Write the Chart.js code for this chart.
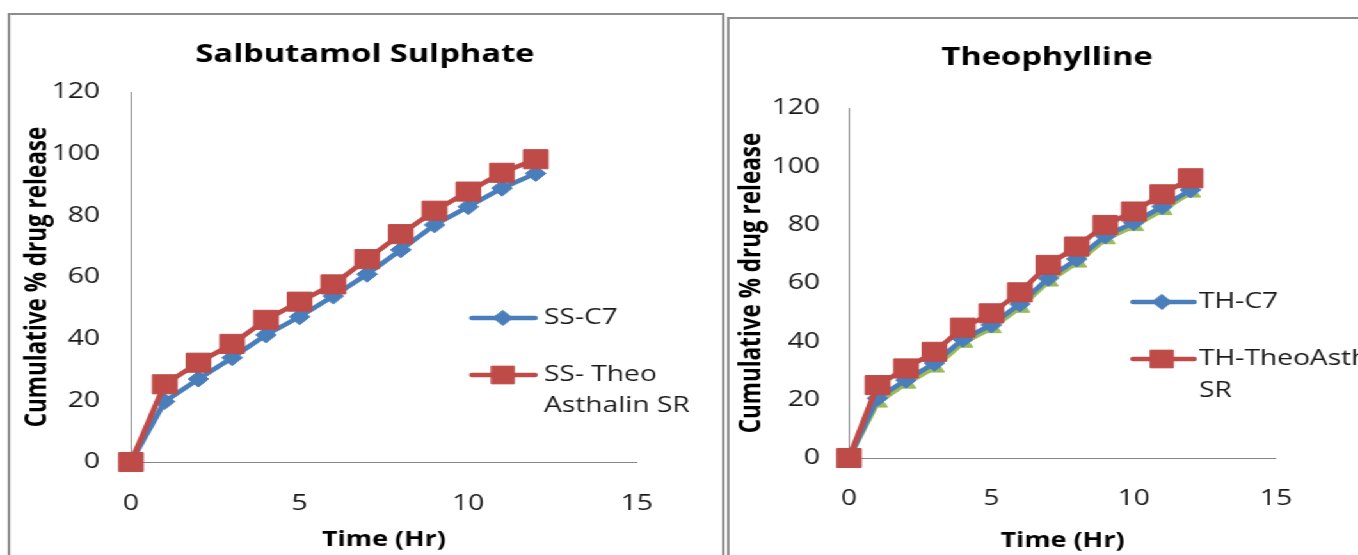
<!DOCTYPE html>
<html><head><meta charset="utf-8">
<script src="https://cdn.jsdelivr.net/npm/chart.js@4.4.1/dist/chart.umd.min.js"></script>
<style>
html,body{margin:0;padding:0;background:#fff;overflow:hidden;width:1358px;height:555px;}
#stage{position:absolute;left:0;top:0;height:555px;transform-origin:0 0;}
.box{position:absolute;border:2px solid #8c8c8c;box-sizing:border-box;}
canvas{position:absolute;top:0;}
</style></head><body>
<div id="stage">
  <div class="box" id="boxL"></div>
  <div class="box" id="boxR"></div>
  <canvas id="cL"></canvas>
  <canvas id="cR"></canvas>
</div>
<script>
// ---- data ----
const timeHr   = [0, 1, 2, 3, 4, 5, 6, 7, 8, 9, 10, 11, 12];
const ssC7     = [0, 19.6, 26.9, 33.8, 41.2, 47.1, 53.8, 60.9, 68.8, 76.9, 82.8, 88.8, 93.6];
const ssTheo   = [0, 25.2, 32.2, 38.3, 46.1, 52.0, 57.6, 65.8, 73.9, 81.5, 87.7, 93.8, 98.2];
const thC7     = [0, 20.5, 26.7, 32.5, 40.7, 45.6, 52.8, 61.6, 68.2, 76.1, 80.7, 86.2, 91.9];
const thTheo   = [0, 25.0, 30.7, 36.4, 44.7, 49.6, 56.8, 66.2, 72.5, 79.9, 84.5, 90.4, 95.9];
const thThird  = [0, 19.0, 25.5, 31.0, 39.5, 44.5, 51.5, 60.5, 67.0, 75.0, 79.5, 85.0, 91.0];
const xTicks   = [0, 5, 10, 15];
const yTicks   = [0, 20, 40, 60, 80, 100, 120];
const ssLabels = ['SS-C7', 'SS- Theo\nAsthalin SR'];
const thLabels = ['TH-C7', 'TH-TheoAsth\nSR'];
const titles   = ['Salbutamol Sulphate', 'Theophylline'];
const yTitle   = 'Cumulative % drug release';
const xTitle   = 'Time (Hr)';

// ---- layout helpers ----
const S = 1.28;              // horizontal stretch of the reference
const u = v => v / S;
const FONT = '"Open Sans", "Liberation Sans", sans-serif';
const BLUE = '#4A7EBB', RED = '#BE4B48', GREEN = '#9BBB59', AXIS = '#868686', TXT = '#1a1a1a';

const stage = document.getElementById('stage');
stage.style.width = u(1358) + 'px';
stage.style.transform = 'scaleX(' + S + ')';
const boxL = document.getElementById('boxL');
Object.assign(boxL.style, {left: u(8) + 'px', top: '13px', width: u(724 - 8) + 'px', height: '600px'});
const boxR = document.getElementById('boxR');
Object.assign(boxR.style, {left: u(727) + 'px', top: '17px', width: u(700) + 'px', height: '600px'});

function setupCanvas(id, left, width) {
  const c = document.getElementById(id);
  c.width = Math.round(u(width)); c.height = 555;
  c.style.left = u(left) + 'px';
  c.style.width = Math.round(u(width)) + 'px'; c.style.height = '555px';
  return c;
}
const cL = setupCanvas('cL', 0, 722);
const cR = setupCanvas('cR', 727, 631);

function drawMarker(ctx, style, r, x, y) {
  ctx.beginPath();
  if (style === 'rect') {
    const h = r * Math.SQRT1_2;
    ctx.rect(x - h, y - h, 2 * h, 2 * h);
  } else if (style === 'rectRot') {
    ctx.moveTo(x, y - r); ctx.lineTo(x + r, y); ctx.lineTo(x, y + r); ctx.lineTo(x - r, y); ctx.closePath();
  } else {
    ctx.moveTo(x, y - r); ctx.lineTo(x + 0.866 * r, y + 0.5 * r); ctx.lineTo(x - 0.866 * r, y + 0.5 * r); ctx.closePath();
  }
  ctx.fill(); ctx.stroke();
}

const decor = {
  id: 'decor',
  afterDraw(chart, args, o) {
    const ctx = chart.ctx;
    ctx.save();
    ctx.fillStyle = '#000';
    ctx.font = 'bold 25.5px ' + FONT;
    ctx.textAlign = 'center'; ctx.textBaseline = 'middle';
    ctx.fillText(o.title, o.titleX, o.titleY);
    ctx.font = '22px ' + FONT;
    ctx.textAlign = 'left';
    o.items.forEach(it => {
      const ds = chart.data.datasets[it.ds];
      ctx.strokeStyle = ds.borderColor; ctx.lineWidth = ds.borderWidth; ctx.lineCap = 'round';
      ctx.beginPath(); ctx.moveTo(o.lineX1, it.y); ctx.lineTo(o.lineX2, it.y); ctx.stroke();
      ctx.fillStyle = ds.pointBackgroundColor; ctx.strokeStyle = ds.pointBorderColor; ctx.lineWidth = 1;
      drawMarker(ctx, ds.pointStyle, it.r, o.markerX, it.y);
      ctx.fillStyle = TXT;
      ds.label.split('\n').forEach((t, i) => ctx.fillText(t, o.textX, it.y + i * o.lineGap));
    });
    ctx.restore();
  }
};

function series(label, values, color, style, radius, order) {
  return {
    label, order,
    data: timeHr.map((t, i) => ({x: t, y: values[i]})),
    borderColor: color, backgroundColor: color, borderWidth: 4.5,
    pointStyle: style, pointRadius: radius, pointHoverRadius: radius,
    pointBackgroundColor: color, pointBorderColor: color, pointBorderWidth: 1,
    tension: 0, clip: false, fill: false
  };
}

function makeChart(canvas, datasets, g) {
  return new Chart(canvas, {
    type: 'line',
    data: {datasets},
    plugins: [decor],
    options: {
      responsive: false, animation: false, events: [],
      layout: {padding: {left: 0, top: g.top, right: g.padRight, bottom: 0}},
      plugins: {
        legend: {display: false}, tooltip: {enabled: false}, title: {display: false},
        decor: g.decor
      },
      scales: {
        x: {
          type: 'linear', min: 0, max: 15,
          afterBuildTicks: s => { s.ticks = xTicks.map(v => ({value: v})); },
          afterFit: s => { s.height = g.xHeight; },
          grid: {display: false, drawTicks: false, tickLength: 0},
          border: {display: true, color: AXIS, width: 1},
          ticks: {color: TXT, font: {family: FONT, size: 22}, padding: g.xTickPad, maxRotation: 0},
          title: {display: true, text: xTitle, color: '#000', font: {family: FONT, size: 21, weight: 'bold'},
                  padding: {top: 0, bottom: g.xTitlePad}}
        },
        y: {
          type: 'linear', min: 0, max: 120,
          afterBuildTicks: s => { s.ticks = yTicks.map(v => ({value: v})); },
          afterFit: s => { s.width = g.yWidth; },
          grid: {display: false, drawTicks: false, tickLength: 0},
          border: {display: true, color: AXIS, width: 1},
          ticks: {color: TXT, font: {family: FONT, size: 22}, padding: g.yTickPad},
          title: {display: true, text: yTitle, color: '#000', font: {family: FONT, size: 22.5, weight: 'bold'},
                  padding: {top: g.yTitlePad, bottom: 0}}
        }
      }
    }
  });
}

makeChart(cL, [
  series(ssLabels[0], ssC7, BLUE, 'rectRot', 8, 1),
  series(ssLabels[1], ssTheo, RED, 'rect', 13.5, 0)
], {
  top: 92, padRight: u(722 - 637), xHeight: 555 - 462, yWidth: u(131),
  xTickPad: 28.8, xTitlePad: 2.4, yTickPad: u(31), yTitlePad: u(38) - 13.5,
  decor: {
    title: titles[0], titleX: u(365), titleY: 55,
    lineX1: u(472), lineX2: u(535), markerX: u(503), textX: u(544), lineGap: 31,
    items: [{ds: 0, y: 318, r: 7.5}, {ds: 1, y: 375, r: 12.5}]
  }
});

makeChart(cR, [
  series(thLabels[0], thC7, BLUE, 'rectRot', 8, 1),
  series(thLabels[1], thTheo, RED, 'rect', 13.5, 0),
  series('', thThird, GREEN, 'triangle', 9, 2)
], {
  top: 108, padRight: u(631 - 549), xHeight: 555 - 458, yWidth: u(849 - 727),
  xTickPad: 27.8, xTitlePad: 1.4, yTickPad: u(29), yTitlePad: u(25.5) - 13.5,
  decor: {
    title: titles[1], titleX: u(1047 - 727), titleY: 58,
    lineX1: u(1133 - 727), lineX2: u(1194 - 727), markerX: u(1162 - 727), textX: u(1199 - 727), lineGap: 32,
    items: [{ds: 0, y: 302, r: 7.5}, {ds: 1, y: 359, r: 12.5}]
  }
});
</script>
</body></html>
